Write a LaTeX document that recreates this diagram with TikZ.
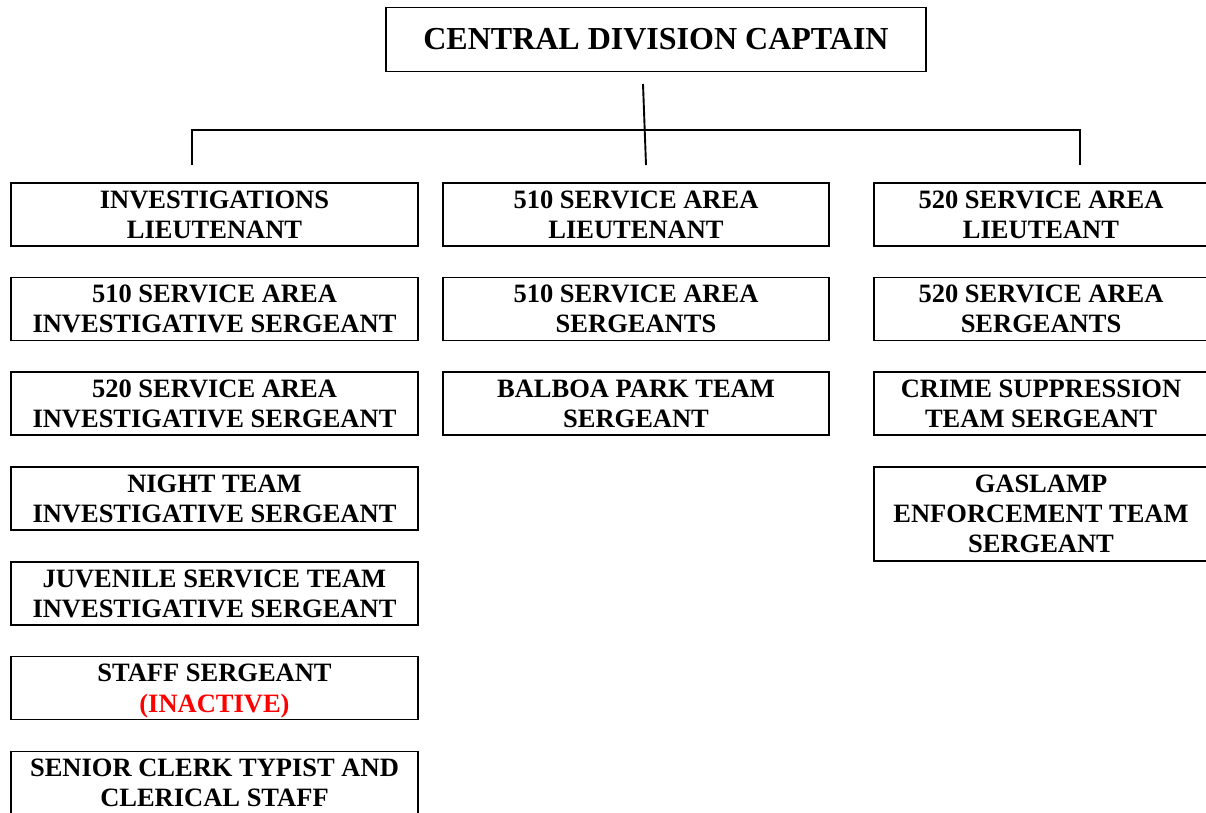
\documentclass[tikz,border=0pt]{standalone}
\usepackage{fontspec}
\setmainfont{Liberation Serif}
\begin{document}
\begin{tikzpicture}[x=1pt,y=-1pt,
  box/.style={draw, line width=1.9pt, inner sep=0pt, align=center,
    font=\bfseries\fontsize{26.5}{30}\selectfont},
  col1/.style={box, minimum width=407pt, minimum height=63pt},
  col2/.style={box, minimum width=386pt, minimum height=63pt},
  col3/.style={box, minimum width=334pt, minimum height=63pt},
  link/.style={line width=1.9pt}]
\useasboundingbox (0,0) rectangle (1206,812);
\clip (0,0) rectangle (1206,812);
\node[box, minimum width=540pt, minimum height=64pt,
  font=\bfseries\fontsize{32}{36}\selectfont] (cap) at (656,39.5) {CENTRAL DIVISION CAPTAIN};
% column 1
\node[col1] (inv) at (214.5,214.5) {INVESTIGATIONS\\LIEUTENANT};
\node[col1] (s510i) at (214.5,309) {510 SERVICE AREA\\INVESTIGATIVE SERGEANT};
\node[col1] (s520i) at (214.5,403.5) {520 SERVICE AREA\\INVESTIGATIVE SERGEANT};
\node[col1] (night) at (214.5,498.5) {NIGHT TEAM\\INVESTIGATIVE SERGEANT};
\node[col1] (juv) at (214.5,593.5) {JUVENILE SERVICE TEAM\\INVESTIGATIVE SERGEANT};
\node[col1] (staff) at (214.5,688) {STAFF SERGEANT\\[1pt]\smash{\textcolor{red}{(INACTIVE)}}};
\node[col1] (clerk) at (214.5,783) {SENIOR CLERK TYPIST AND\\CLERICAL STAFF};
% column 2
\node[col2] (l510) at (636,214.5) {510 SERVICE AREA\\LIEUTENANT};
\node[col2] (sg510) at (636,309) {510 SERVICE AREA\\SERGEANTS};
\node[col2] (balboa) at (636,403.5) {BALBOA PARK TEAM\\SERGEANT};
% column 3
\node[col3] (l520) at (1041,214.5) {520 SERVICE AREA\\LIEUTEANT};
\node[col3] (sg520) at (1041,309) {520 SERVICE AREA\\SERGEANTS};
\node[col3] (crime) at (1041,403.5) {CRIME SUPPRESSION\\TEAM SERGEANT};
\node[col3, minimum height=94pt] (gas) at (1041,514) {GASLAMP\\ENFORCEMENT TEAM\\SERGEANT};
% connectors
\coordinate (captop) at (643,84);
\coordinate (capbot) at (646,165);
\coordinate (barl) at (192,130);
\coordinate (barr) at (1080,130);
\coordinate (dropl) at (192,165);
\coordinate (dropr) at (1080,165);
\draw[link] (captop) -- (capbot);
\draw[link] (dropl) -- (barl) -- (barr) -- (dropr);
\end{tikzpicture}
\end{document}
